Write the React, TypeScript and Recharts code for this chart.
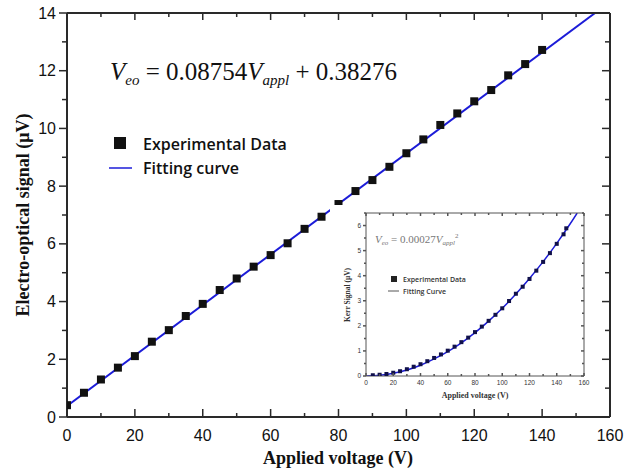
import React from "react";
import {
  ComposedChart,
  Scatter,
  Line,
  XAxis,
  YAxis
} from "recharts";

/* ---------------- DATA ---------------- */

const VOLTAGE = [0, 5, 10, 15, 20, 25, 30, 35, 40, 45, 50, 55, 60, 65, 70, 75, 80, 85, 90, 95, 100, 105, 110, 115, 120, 125, 130, 135, 140];
const SIGNAL = [0.41, 0.84, 1.3, 1.71, 2.11, 2.61, 3.01, 3.5, 3.92, 4.4, 4.8, 5.21, 5.61, 6.02, 6.52, 6.94, 7.38, 7.83, 8.21, 8.67, 9.14, 9.62, 10.12, 10.52, 10.94, 11.33, 11.84, 12.23, 12.72];

const FIT_X = [0, 155.6];
const FIT_Y = [0.38, 14.0];

const KERR_VOLTAGE = [5, 10, 15, 20, 25, 30, 35, 40, 45, 50, 55, 60, 65, 70, 75, 80, 85, 90, 95, 100, 105, 110, 115, 120, 125, 130, 135, 140, 145, 147];
const KERR_SIGNAL = [0.03, 0.05, 0.08, 0.13, 0.19, 0.27, 0.37, 0.47, 0.59, 0.72, 0.86, 1.01, 1.17, 1.35, 1.53, 1.75, 1.97, 2.2, 2.44, 2.7, 2.99, 3.28, 3.56, 3.87, 4.2, 4.55, 4.9, 5.27, 5.65, 5.89];

const KERR_FIT_X = [0, 10, 20, 30, 40, 50, 60, 70, 80, 90, 100, 110, 120, 130, 140, 150, 155];
const KERR_FIT_Y = [0, 0.03, 0.11, 0.24, 0.43, 0.68, 0.97, 1.32, 1.73, 2.19, 2.7, 3.27, 3.89, 4.56, 5.29, 6.08, 6.5];

const X_TICKS = [0, 10, 20, 30, 40, 50, 60, 70, 80, 90, 100, 110, 120, 130, 140, 150, 160];
const Y_TICKS = [0, 1, 2, 3, 4, 5, 6, 7, 8, 9, 10, 11, 12, 13, 14];
const KERR_Y_TICKS = [0, 0.5, 1, 1.5, 2, 2.5, 3, 3.5, 4, 4.5, 5, 5.5, 6, 6.5];

const mainData = VOLTAGE.map((x, i) => ({ x, y: SIGNAL[i] }));
const mainFit = FIT_X.map((x, i) => ({ x, y: FIT_Y[i] }));
const kerrData = KERR_VOLTAGE.map((x, i) => ({ x, y: KERR_SIGNAL[i] }));
const kerrFit = KERR_FIT_X.map((x, i) => ({ x, y: KERR_FIT_Y[i] }));

/* ---------------- STYLE ---------------- */

const AXIS = "#2a2a2a";
const BLUE = "#1c1cd8";
const SANS = "'Liberation Sans', Arial, sans-serif";
const SERIF = "'Liberation Serif', 'Times New Roman', serif";

/* ---------------- TICKS ---------------- */

function makeTicks(opts: {
  side: "bottom" | "left" | "top" | "right";
  major: (v: number) => boolean;
  majorLen: number;
  minorLen: number;
  label?: boolean;
  fontSize?: number;
  offset?: number;
  color?: string;
  stroke?: string;
}) {
  const stroke = opts.stroke || AXIS;
  return (props: any) => {
    const { x, y, payload } = props;
    const v = payload.value;
    const isMajor = opts.major(v);
    const len = isMajor ? opts.majorLen : opts.minorLen;
    let line;
    if (opts.side === "bottom") line = <line x1={x} x2={x} y1={y} y2={y - len} stroke={stroke} strokeWidth={1.5} />;
    else if (opts.side === "top") line = <line x1={x} x2={x} y1={y} y2={y + len} stroke={stroke} strokeWidth={1.5} />;
    else line = <line x1={x} x2={x - len} y1={y} y2={y} stroke={stroke} strokeWidth={1.5} />;
    let text = null;
    if (opts.label && isMajor) {
      if (opts.side === "bottom") {
        text = (
          <text x={x} y={y + (opts.offset || 0)} textAnchor="middle" fontFamily={SANS} fontSize={opts.fontSize} fill={opts.color || "#111"}>
            {v}
          </text>
        );
      } else {
        text = (
          <text x={x - (opts.offset || 0)} y={y} dy="0.35em" textAnchor="end" fontFamily={SANS} fontSize={opts.fontSize} fill={opts.color || "#111"}>
            {v}
          </text>
        );
      }
    }
    return (
      <g>
        {line}
        {text}
      </g>
    );
  };
}

const mainBottom = makeTicks({ side: "bottom", major: v => v % 20 === 0, majorLen: 8, minorLen: 4, label: true, fontSize: 16, offset: 24 });
const mainLeft = makeTicks({ side: "left", major: v => v % 2 === 0, majorLen: 8, minorLen: 5, label: true, fontSize: 16, offset: 11 });
const mainTop = makeTicks({ side: "top", major: v => v % 20 === 0, majorLen: 7, minorLen: 4 });
const mainRight = makeTicks({ side: "right", major: v => v % 2 === 0, majorLen: 8, minorLen: 5 });

const kerrBottom = makeTicks({ side: "bottom", major: v => v % 20 === 0, majorLen: 3, minorLen: 2, label: true, fontSize: 6.5, offset: 9, color: "#333", stroke: "#555" });
const kerrLeft = makeTicks({ side: "left", major: v => v % 1 === 0, majorLen: 3, minorLen: 2, label: true, fontSize: 6.5, offset: 5, color: "#333", stroke: "#555" });
const kerrTop = makeTicks({ side: "top", major: v => v % 20 === 0, majorLen: 3, minorLen: 2, stroke: "#555" });
const kerrRight = makeTicks({ side: "right", major: v => v % 1 === 0, majorLen: 3, minorLen: 2, stroke: "#555" });

const square = (size: number, fill: string) => (p: any) => (
  <rect x={p.cx - size / 2} y={p.cy - size / 2} width={size} height={size} fill={fill} />
);

/* ---------------- COMPONENT ---------------- */

export default function App() {
  return (
    <div style={{ position: "absolute", left: 0, top: 0, width: 638, height: 469, background: "#fff" }}>
      {/* MAIN CHART */}
      <ComposedChart width={638} height={469} margin={{ top: 12, right: 27, bottom: 0, left: 0 }}>
        <XAxis xAxisId="bottom" dataKey="x" type="number" domain={[0, 160]} ticks={X_TICKS} interval={0}
          height={52} tickSize={0} tickMargin={0} tickLine={false} tick={mainBottom}
          axisLine={{ stroke: AXIS, strokeWidth: 2 }} allowDataOverflow />
        <XAxis xAxisId="top" orientation="top" dataKey="x" type="number" domain={[0, 160]} ticks={X_TICKS} interval={0}
          height={1} tickSize={0} tickMargin={0} tickLine={false} tick={mainTop}
          axisLine={{ stroke: AXIS, strokeWidth: 2 }} allowDataOverflow />
        <YAxis yAxisId="left" type="number" domain={[0, 14]} ticks={Y_TICKS} interval={0}
          width={67} tickSize={0} tickMargin={0} tickLine={false} tick={mainLeft}
          axisLine={{ stroke: AXIS, strokeWidth: 2 }} allowDataOverflow />
        <YAxis yAxisId="right" orientation="right" type="number" domain={[0, 14]} ticks={Y_TICKS} interval={0}
          width={1} tickSize={0} tickMargin={0} tickLine={false} tick={mainRight}
          axisLine={{ stroke: AXIS, strokeWidth: 2 }} allowDataOverflow />
        <Scatter data={mainData} dataKey="y" xAxisId="bottom" yAxisId="left"
          shape={square(8, "#111")} isAnimationActive={false} />
        <Line data={mainFit} dataKey="y" xAxisId="bottom" yAxisId="left" type="linear"
          stroke={BLUE} strokeWidth={2} dot={false} activeDot={false} isAnimationActive={false} />
      </ComposedChart>

      {/* INSET CHART */}
      <div style={{ position: "absolute", left: 330, top: 205, width: 260, height: 200, background: "#fff" }}>
        <ComposedChart width={260} height={200} margin={{ top: 7, right: 5, bottom: 0, left: 0 }}>
          <XAxis xAxisId="bottom" dataKey="x" type="number" domain={[0, 160]} ticks={X_TICKS} interval={0}
            height={29} tickSize={0} tickMargin={0} tickLine={false} tick={kerrBottom}
            axisLine={{ stroke: "#555", strokeWidth: 1 }} allowDataOverflow />
          <XAxis xAxisId="top" orientation="top" dataKey="x" type="number" domain={[0, 160]} ticks={X_TICKS} interval={0}
            height={1} tickSize={0} tickMargin={0} tickLine={false} tick={kerrTop}
            axisLine={{ stroke: "#555", strokeWidth: 1 }} allowDataOverflow />
          <YAxis yAxisId="left" type="number" domain={[0, 6.5]} ticks={KERR_Y_TICKS} interval={0}
            width={36} tickSize={0} tickMargin={0} tickLine={false} tick={kerrLeft}
            axisLine={{ stroke: "#555", strokeWidth: 1 }} allowDataOverflow />
          <YAxis yAxisId="right" orientation="right" type="number" domain={[0, 6.5]} ticks={KERR_Y_TICKS} interval={0}
            width={1} tickSize={0} tickMargin={0} tickLine={false} tick={kerrRight}
            axisLine={{ stroke: "#555", strokeWidth: 1 }} allowDataOverflow />
          <Scatter data={kerrData} dataKey="y" xAxisId="bottom" yAxisId="left"
            shape={square(4, "#10104a")} isAnimationActive={false} />
          <Line data={kerrFit} dataKey="y" xAxisId="bottom" yAxisId="left" type="monotone"
            stroke={BLUE} strokeWidth={1.5} dot={false} activeDot={false} isAnimationActive={false} />
        </ComposedChart>
      </div>

      {/* TEXT OVERLAY */}
      <svg width={638} height={469} style={{ position: "absolute", left: 0, top: 0, pointerEvents: "none" }}>
        {/* main equation */}
        <text x={110} y={80} fontFamily={SERIF} fontSize={25} fill="#111">
          <tspan fontStyle="italic">V</tspan>
          <tspan fontStyle="italic" fontSize={15} dy={5}>eo</tspan>
          <tspan dy={-5}> = 0.08754</tspan>
          <tspan fontStyle="italic">V</tspan>
          <tspan fontStyle="italic" fontSize={15} dy={5}>appl</tspan>
          <tspan dy={-5}> + 0.38276</tspan>
        </text>

        {/* main legend */}
        <rect x={114} y={137} width={12} height={12} fill="#111" />
        <text x={143} y={150} fontFamily="'Open Sans', sans-serif" fontWeight="600" fontSize={16} fill="#111">Experimental Data</text>
        <line x1={109} x2={132} y1={168} y2={168} stroke={BLUE} strokeWidth={1.5} />
        <text x={143} y={174} fontFamily="'Open Sans', sans-serif" fontWeight="600" fontSize={16} fill="#111">Fitting curve</text>

        {/* main axis titles */}
        <text x={338} y={464} textAnchor="middle" fontFamily={SERIF} fontWeight="bold" fontSize={18} fill="#111">
          Applied voltage (V)
        </text>
        <text transform="translate(29, 215) rotate(-90)" textAnchor="middle" fontFamily={SERIF} fontWeight="bold" fontSize={18} fill="#111">
          Electro-optical signal (μV)
        </text>

        {/* inset equation */}
        <text x={375} y={243} fontFamily={SERIF} fontSize={11} fill="#777">
          <tspan fontStyle="italic">V</tspan>
          <tspan fontStyle="italic" fontSize={7} dy={2}>eo</tspan>
          <tspan dy={-2}> = 0.00027</tspan>
          <tspan fontStyle="italic">V</tspan>
          <tspan fontStyle="italic" fontSize={7} dy={2}>appl</tspan>
          <tspan fontSize={7} dy={-7}>2</tspan>
        </text>

        {/* inset legend */}
        <rect x={391} y={276} width={6} height={6} fill="#222" />
        <text x={403} y={282} fontFamily="'Open Sans', sans-serif" fontWeight="600" fontSize={7} fill="#333">Experimental Data</text>
        <line x1={388} x2={399} y1={291} y2={291} stroke="#555" strokeWidth={1} />
        <text x={403} y={294} fontFamily="'Open Sans', sans-serif" fontWeight="600" fontSize={7} fill="#333">Fitting Curve</text>

        {/* inset axis titles */}
        <text x={475} y={398} textAnchor="middle" fontFamily={SERIF} fontWeight="bold" fontSize={8} fill="#333">
          Applied voltage (V)
        </text>
        <text transform="translate(350, 295) rotate(-90)" textAnchor="middle" fontFamily={SERIF} fontWeight="bold" fontSize={7.5} fill="#333">
          Kerr Signal (μV)
        </text>
      </svg>
    </div>
  );
}
